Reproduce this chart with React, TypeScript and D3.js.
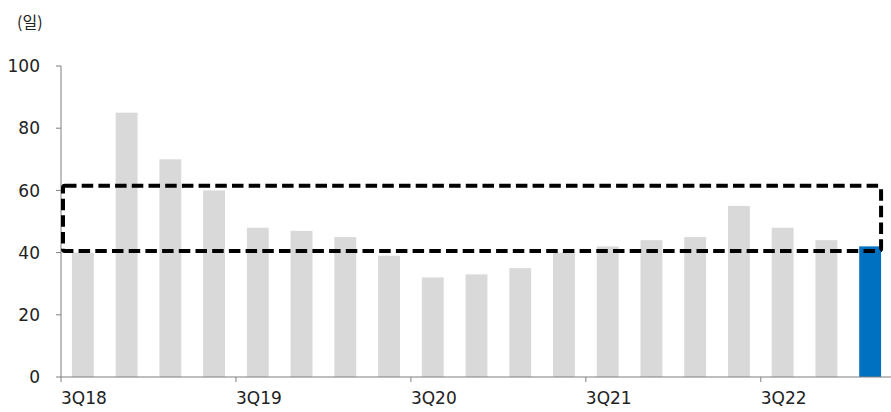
import React from "react";
import * as d3 from "d3";

// Quarterly days (일) from 3Q18 to 1Q23
const quarters = [
  "3Q18", "4Q18", "1Q19", "2Q19",
  "3Q19", "4Q19", "1Q20", "2Q20",
  "3Q20", "4Q20", "1Q21", "2Q21",
  "3Q21", "4Q21", "1Q22", "2Q22",
  "3Q22", "4Q22", "1Q23",
];
const days = [40, 85, 70, 60, 48, 47, 45, 39, 32, 33, 35, 40, 42, 44, 45, 55, 48, 44, 42];
const axisLabels = ["3Q18", "3Q19", "3Q20", "3Q21", "3Q22"];
const yTicks = [0, 20, 40, 60, 80, 100];
// Highlighted normal range band
const bandLow = 40.5;
const bandHigh = 61.5;
const unitLabel = "(일)";

const W = 891;
const H = 412;
const margin = { left: 61, right: -1, top: 66, bottom: 35 };
const FONT = "'DejaVu Sans', 'Noto Sans CJK KR', sans-serif";

export default function App() {
  const x = d3
    .scaleBand<string>()
    .domain(quarters)
    .range([margin.left, W - margin.right])
    .paddingInner(0.5)
    .paddingOuter(0.25);
  const y = d3.scaleLinear().domain([0, 100]).range([H - margin.bottom, margin.top]);
  const step = x.step();
  const y0 = y(0);
  const axisColor = "#7f7f7f";
  const last = quarters[quarters.length - 1];

  return (
    <svg
      width={W}
      height={H}
      style={{ position: "absolute", left: 0, top: 0, background: "#fff" }}
      fontFamily={FONT}
    >
      <text x={17} y={28} fontSize={16} fill="#222" fontFamily="'Noto Sans CJK KR', sans-serif">
        {unitLabel}
      </text>

      {days.map((v, i) => (
        <rect
          key={quarters[i]}
          x={x(quarters[i])}
          y={y(v)}
          width={x.bandwidth()}
          height={y0 - y(v)}
          fill={i === days.length - 1 ? "#0070C0" : "#D9D9D9"}
        />
      ))}

      {/* y axis */}
      <line x1={margin.left} x2={margin.left} y1={y(100)} y2={y0} stroke={axisColor} strokeWidth={1} />
      {yTicks.map((t) => (
        <g key={t}>
          <line x1={margin.left - 5} x2={margin.left} y1={y(t)} y2={y(t)} stroke={axisColor} />
          <text x={40} y={y(t)} dy="0.36em" textAnchor="end" fontSize={17} fill="#222">
            {t}
          </text>
        </g>
      ))}

      {/* x axis */}
      <line x1={margin.left} x2={W} y1={y0} y2={y0} stroke={axisColor} strokeWidth={1.2} />
      {axisLabels.map((q) => {
        const px = (x(q) as number) - step * 0.25;
        return (
          <g key={q}>
            <line x1={px} x2={px} y1={y0} y2={y0 + 5} stroke={axisColor} />
            <text x={px} y={y0 + 27} fontSize={17} fill="#222">
              {q}
            </text>
          </g>
        );
      })}

      {/* dashed range box */}
      <rect
        x={margin.left + 2}
        y={y(bandHigh)}
        width={(x(last) as number) + x.bandwidth() - margin.left - 2}
        height={y(bandLow) - y(bandHigh)}
        fill="none"
        stroke="#000"
        strokeWidth={4}
        strokeDasharray="11.5 5.2"
        strokeLinejoin="round"
        rx={2}
      />
    </svg>
  );
}
